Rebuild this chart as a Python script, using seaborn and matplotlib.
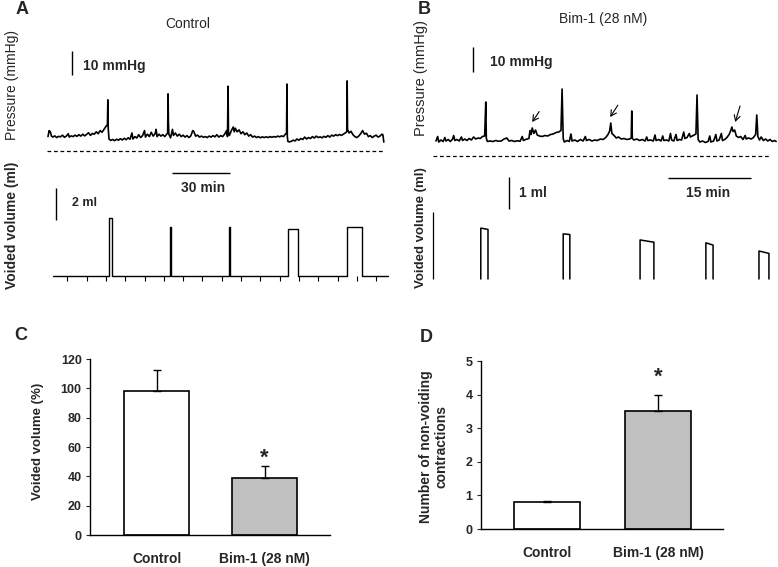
import numpy as np
import pandas as pd
import matplotlib
matplotlib.use('Agg')
import matplotlib.pyplot as plt
import seaborn as sns

# ---------------- data ----------------
# A: control cystometry, time (min) and pressure (mmHg)
ctrl_t = [0, 0.6, 1.2, 1.8, 2.5, 3.5, 4.5, 5.5, 6.5, 7.5, 8.5, 9.5, 10.5, 11, 12, 13, 14, 15, 16, 17,
          18, 19, 20, 21, 22, 23, 24, 25, 26, 27, 28, 29, 30, 30.8, 31, 31.2, 31.6, 32.5, 33.5, 34.5,
          35.5, 36.5, 37.5, 38.5, 39.5, 40.5, 41.5, 42.5, 43.5, 44, 45, 46, 47, 48, 49, 50,
          50.5, 51.5, 52.5, 53.5, 54.5, 55.5, 56, 56.5, 57.5, 58.5, 59.5, 60.5, 61.5, 62, 62.2, 62.4,
          62.6, 63.5, 64.5, 65, 66, 67, 68, 69, 70, 71, 72, 73, 74, 75, 75.5, 76.5, 77.5, 78.5,
          79.5, 80.5, 81.5, 82.5, 83.5, 84.5, 85.5, 86.5, 87.5, 88.5, 89.5, 90.5, 91.5, 92.5, 93, 93.3,
          93.5, 94, 95, 96, 96.5, 97, 98, 99, 100, 101, 102, 103, 104, 105, 106, 107, 108, 109,
          110, 111, 112, 113, 114, 115, 116, 117, 118, 119, 120, 121, 122, 123, 123.6, 123.8, 124, 124.3,
          125, 126, 127, 128, 129, 130, 131, 132, 133, 134, 135, 136, 137, 138, 139, 140, 141, 142,
          143, 144, 145, 146, 147, 148, 149, 150, 151, 152, 153, 154, 154.8, 155, 155.2, 156, 157, 158,
          159, 160, 161, 162, 163, 164, 165, 166, 167, 168, 169, 170, 171, 172, 173, 173.5, 174]
ctrl_p = [6.0, 8.5, 8.0, 6.2, 5.8, 6.3, 5.6, 6.1, 5.9, 6.6, 5.7, 6.2, 7.2, 5.8, 6.3, 6.0, 6.6, 6.1, 6.8, 6.2,
          7.0, 6.3, 6.9, 7.6, 6.5, 7.3, 7.0, 8.0, 7.2, 8.5, 7.8, 9.0, 10.2, 11.0, 21.3, 9.5, 5.0, 4.4, 4.8, 4.3,
          4.9, 4.5, 5.1, 4.6, 5.3, 4.7, 5.5, 4.9, 7.5, 5.0, 6.0, 5.4, 6.8, 5.6, 6.4, 8.5,
          5.8, 7.0, 6.0, 7.8, 6.2, 7.2, 9.0, 6.0, 7.0, 6.2, 6.8, 6.0, 7.0, 7.5, 23.8, 12.0,
          7.0, 5.5, 9.0, 6.5, 7.5, 6.2, 7.0, 6.0, 6.6, 5.8, 6.4, 5.6, 6.3, 8.5, 8.2, 6.2, 6.6, 5.8,
          6.2, 5.7, 6.0, 5.6, 6.2, 5.8, 6.4, 5.9, 6.8, 5.8, 6.4, 6.0, 7.0, 8.5, 6.0, 27.0,
          8.0, 6.5, 8.5, 10.0, 8.0, 9.5, 8.0, 8.8, 7.2, 8.0, 6.8, 7.5, 6.2, 6.8, 5.8, 6.2, 5.6, 6.0,
          5.5, 5.9, 5.6, 5.9, 5.6, 6.0, 5.7, 6.0, 5.8, 6.2, 5.9, 6.3, 6.0, 7.0, 7.5, 27.9, 6.0, 4.0,
          3.8, 4.0, 4.5, 4.2, 5.0, 4.5, 5.2, 4.8, 5.8, 5.0, 5.6, 5.2, 6.0, 5.4, 6.2, 5.6, 5.9, 5.5,
          6.1, 5.7, 6.4, 5.8, 6.6, 6.2, 6.8, 6.4, 6.9, 6.5, 7.0, 7.5, 8.0, 29.2, 9.0, 7.5, 8.2, 6.8,
          6.0, 5.6, 6.2, 7.2, 8.5, 7.0, 7.4, 6.0, 6.4, 5.6, 6.2, 6.6, 5.8, 6.2, 7.0, 6.8, 3.7]
ctrl_void_start = [31.8, 63.0, 93.8, 124.4, 155.0]
ctrl_void_end = [33.3, 63.7, 94.5, 129.5, 162.7]
ctrl_void_ml = [3.6, 3.06, 3.06, 2.94, 3.06]
ctrl_ticks = list(range(10, 171, 10))

# B: Bim-1 (28 nM) cystometry
bim_t = [0, 0.3, 0.5, 0.9, 1.3, 1.6, 1.8, 2.2, 2.6, 3.0, 3.2, 3.4, 3.8, 4.2, 4.6, 4.8, 5.2, 5.6, 6.0, 6.4,
         6.8, 7.2, 7.6, 8.0, 8.4, 8.8, 9.0, 9.1, 9.3, 9.8, 10.3, 10.8, 11.3, 11.8, 12.3, 12.8, 13.2, 13.7,
         14.2, 14.7, 15.2, 15.6, 15.8, 16.2, 16.8, 17.0, 17.2, 17.4, 17.7, 18.0, 18.3, 18.7, 19.2, 19.7,
         20.2, 20.7, 21.2, 21.7, 22.2, 22.6, 22.8, 23.0, 23.2, 23.7, 24.1, 24.4, 24.6, 25.1, 25.6, 26.1,
         26.6, 27.0, 27.2, 27.7, 28.2, 28.7, 29.2, 29.7, 30.2, 30.7, 31.1, 31.4, 31.6, 31.8, 32.2, 32.6,
         33.0, 33.5, 34.0, 34.5, 35.0, 35.3, 35.4, 35.5, 35.8, 36.3, 36.8, 37.3, 37.8, 38.1, 38.3, 38.8,
         39.3, 39.6, 39.8, 40.3, 40.7, 41.0, 41.2, 41.7, 42.1, 42.4, 42.6, 43.0, 43.4, 43.6, 44.0, 44.4,
         44.8, 45.0, 45.4, 45.8, 46.0, 46.5, 47.0, 47.2, 47.4, 47.7, 48.2, 48.7, 49.2, 49.5, 49.7, 50.2,
         50.6, 50.8, 51.2, 51.6, 51.8, 52.2, 52.6, 53.0, 53.3, 53.5, 53.7, 54.0, 54.3, 54.7, 55.1, 55.5,
         55.9, 56.1, 56.5, 57.0, 57.4, 57.8, 58.0, 58.2, 58.5, 58.8, 59.2, 59.6, 60.0, 60.4, 60.8, 61.2, 61.5]
bim_p = [6.0, 7.8, 5.6, 6.4, 5.8, 7.4, 6.0, 6.6, 5.8, 6.8, 8.2, 6.2, 6.6, 6.0, 7.6, 6.2, 6.8, 6.2, 7.0, 6.4,
         7.6, 6.8, 7.2, 7.0, 7.8, 8.0, 21.6, 7.0, 5.8, 6.0, 5.8, 6.2, 5.9, 6.0, 6.8, 7.2, 6.0, 6.2,
         5.8, 6.1, 5.9, 7.8, 6.2, 6.6, 7.0, 10.2, 8.6, 11.2, 9.0, 10.4, 8.4, 8.0, 7.8, 8.2,
         8.0, 8.6, 8.8, 9.4, 9.6, 10.2, 26.8, 7.0, 5.6, 6.2, 5.8, 8.8, 6.0, 6.4, 5.8, 6.6,
         6.0, 7.8, 6.2, 6.6, 6.0, 6.4, 6.2, 6.8, 6.6, 7.4, 8.6, 10.0, 13.2, 9.0, 8.2, 7.2,
         7.6, 6.8, 7.0, 6.6, 6.8, 7.2, 18.0, 7.0, 6.4, 6.8, 6.2, 6.6, 6.0, 7.6, 6.2, 6.4,
         6.0, 8.4, 6.2, 6.6, 6.0, 8.0, 6.2, 6.4, 6.0, 9.0, 6.4, 6.0, 8.6, 6.2, 6.6, 6.4,
         9.6, 7.0, 7.4, 9.0, 7.6, 8.2, 8.8, 24.4, 6.6, 5.6, 6.0, 5.4, 5.8, 8.0, 5.6, 6.0,
         8.6, 6.0, 6.4, 9.0, 6.2, 6.6, 7.4, 8.6, 10.2, 11.6, 9.8, 10.4, 8.0, 7.4, 7.8, 6.6,
         8.2, 6.8, 7.2, 6.8, 7.4, 8.6, 16.4, 7.8, 6.4, 7.6, 6.2, 6.8, 6.0, 6.6, 5.8, 6.2, 5.8]
bim_void_start = [8.1, 23.0, 36.9, 48.8, 58.4]
bim_void_end = [9.4, 24.2, 39.4, 50.1, 60.2]
bim_void_ml_on = [1.59, 1.41, 1.22, 1.13, 0.875]
bim_void_ml_off = [1.55, 1.39, 1.15, 1.06, 0.8]
bim_start_ml = 2.09
bim_arrow_t = [17.4, 31.5, 54.1]
bim_arrow_p = [13.6, 15.6, 13.6]

# C, D: summary bars (mean + SEM)
groups = ['Control', 'Bim-1 (28 nM)']
voided_pct = [98.4, 38.7]
voided_sem = [14.0, 8.6]
nonvoid_n = [0.8, 3.5]
nonvoid_sem = [0.04, 0.5]

# ---------------- figure ----------------
sns.set_style('white')
plt.rcParams['font.family'] = ['Liberation Sans', 'DejaVu Sans']

W, H = 778, 567
fig = plt.figure(figsize=(W / 100, H / 100), dpi=100)


def px_axes(l, t, r, b):
    return fig.add_axes([l / W, 1 - b / H, (r - l) / W, (b - t) / H])


def ptext(x, y, s, **kw):
    fig.text(x / W, 1 - y / H, s, **kw)


lw_trace = 1.2
dash = (0, (3, 2.2))

# ---- A: pressure ----
axA1 = px_axes(40, 10, 390, 200)
sns.lineplot(x=ctrl_t, y=ctrl_p, sort=False, estimator=None, color='black', lw=lw_trace, ax=axA1)
axA1.hlines(0, -0.5, 174.6, colors='black', lw=0.9, linestyles=dash)
axA1.vlines(12.4, 31.5, 41.5, colors='black', lw=1.0)
axA1.text(18.1, 35.4, '10 mmHg', fontsize=10, fontweight='bold', va='center')
axA1.hlines(-9.2, 64.2, 94.3, colors='black', lw=1.0)
axA1.text(80.6, -15.4, '30 min', fontsize=10, fontweight='bold', ha='center', va='center')
axA1.set_xlim(-4.145, 177.2)
axA1.set_ylim(-20.42, 58.75)
axA1.axis('off')

# ---- A: voided volume ----
axA2 = px_axes(40, 180, 390, 295)
va_t, va_v = [2.6], [0]
for s, e, h in zip(ctrl_void_start, ctrl_void_end, ctrl_void_ml):
    va_t += [s, s, e, e]
    va_v += [0, h, h, 0]
va_t.append(176)
va_v.append(0)
sns.lineplot(x=va_t, y=va_v, sort=False, estimator=None, color='black', lw=1.0, ax=axA2)
axA2.vlines(ctrl_ticks, -0.33, 0, colors='black', lw=0.8)
axA2.vlines(4.15, 3.5, 5.5, colors='black', lw=1.0)
axA2.text(12.4, 4.56, '2 ml', fontsize=9, fontweight='bold', va='center')
axA2.set_xlim(-4.145, 177.2)
axA2.set_ylim(-1.1875, 6.0)
axA2.axis('off')

# ---- B: pressure ----
axB1 = px_axes(425, 10, 778, 200)
sns.lineplot(x=bim_t, y=bim_p, sort=False, estimator=None, color='black', lw=lw_trace, ax=axB1)
axB1.hlines(0, -0.5, 60.4, colors='black', lw=0.9, linestyles=dash)
axB1.vlines(6.69, 33.6, 43.6, colors='black', lw=1.0)
axB1.text(9.76, 37.6, '10 mmHg', fontsize=10, fontweight='bold', va='center')
axB1.hlines(-8.8, 41.95, 56.95, colors='black', lw=1.0)
axB1.text(49.2, -14.8, '15 min', fontsize=10, fontweight='bold', ha='center', va='center')
arrow_off = [(5, 7.5), (5.5, 8.5), (3.5, 11.5)]
for t, p, off in zip(bim_arrow_t, bim_arrow_p, arrow_off):
    axB1.annotate('', xy=(t, p), xytext=off, textcoords='offset points',
                  arrowprops=dict(arrowstyle='->,head_length=0.4,head_width=0.22',
                                  lw=0.8, color='black', shrinkA=0, shrinkB=0))
axB1.set_xlim(-1.989, 61.84)
axB1.set_ylim(-17.6, 58.4)
axB1.axis('off')

# ---- B: voided volume ----
axB2 = px_axes(425, 165, 778, 295)
rows = []
for i, (s, e, h1, h2) in enumerate(zip(bim_void_start, bim_void_end, bim_void_ml_on, bim_void_ml_off)):
    for t, v in [(s, 0), (s, h1), (e, h2), (e, 0)]:
        rows.append((i, t, v))
vb = pd.DataFrame(rows, columns=['pulse', 't', 'ml'])
sns.lineplot(data=vb, x='t', y='ml', units='pulse', estimator=None, sort=False,
             color='black', lw=1.1, ax=axB2)
axB2.vlines(-0.54, 0, bim_start_ml, colors='black', lw=0.9)
axB2.vlines(13.2, 2.19, 3.19, colors='black', lw=1.0)
axB2.text(15.0, 2.69, '1 ml', fontsize=10, fontweight='bold', va='center')
axB2.set_xlim(-1.989, 61.84)
axB2.set_ylim(-0.5, 3.5625)
axB2.axis('off')

# ---- C, D: bar charts ----
def bar_panel(ax, vals, sems, ylim, yticks, star_y, xlim):
    sns.barplot(x=groups, y=vals, hue=groups, palette=['white', '#c0c0c0'], legend=False,
                edgecolor='black', linewidth=1.2, width=0.6, saturation=1, ax=ax)
    ax.errorbar([0, 1], vals, yerr=[[0, 0], sems], fmt='none', ecolor='black',
                elinewidth=1.0, capsize=3.2, capthick=1.0, zorder=5)
    ax.text(1, star_y, '*', fontsize=16, fontweight='bold', ha='center', va='baseline')
    ax.set_xlim(*xlim)
    ax.set_ylim(*ylim)
    ax.set_yticks(yticks)
    ax.set_xticks([0, 1])
    ax.set_xticklabels(groups, fontsize=10, fontweight='bold')
    ax.tick_params(axis='x', length=0, pad=12)
    ax.tick_params(axis='y', direction='out', length=3, width=0.8, left=True, pad=3, labelsize=9)
    for lbl in ax.get_yticklabels():
        lbl.set_fontweight('bold')
    for side in ['top', 'right']:
        ax.spines[side].set_visible(False)
    for side in ['left', 'bottom']:
        ax.spines[side].set_color('black')
        ax.spines[side].set_linewidth(1.0)
    ax.set_xlabel('')
    ax.set_ylabel('')


axC = px_axes(90, 359, 330, 535)
bar_panel(axC, voided_pct, voided_sem, (0, 120), range(0, 121, 20), 48.4, (-0.616, 1.606))
axD = px_axes(481, 361, 723, 529)
bar_panel(axD, nonvoid_n, nonvoid_sem, (0, 5), range(0, 6), 4.35, (-0.595, 1.585))

# ---- labels ----
for x, y, s in [(22, 10, 'A'), (424, 10, 'B'), (21, 336, 'C'), (426, 337, 'D')]:
    ptext(x, y, s, fontsize=13, fontweight='bold', ha='center', va='center')
ptext(188, 24, 'Control', fontsize=10, ha='center', va='center')
ptext(603, 19, 'Bim-1 (28 nM)', fontsize=10, ha='center', va='center')
ptext(12, 85, 'Pressure (mmHg)', fontsize=10, rotation=90, ha='center', va='center')
ptext(12, 225, 'Voided volume (ml)', fontsize=10, fontweight='bold', rotation=90, ha='center', va='center')
ptext(421, 78, 'Pressure (mmHg)', fontsize=10.5, rotation=90, ha='center', va='center')
ptext(421, 228, 'Voided volume (ml)', fontsize=9.5, fontweight='bold', rotation=90, ha='center', va='center')
ptext(38, 441, 'Voided volume (%)', fontsize=9.5, fontweight='bold', rotation=90, ha='center', va='center')
ptext(434, 447, 'Number of non-voiding\ncontractions', fontsize=10, fontweight='bold',
      rotation=90, ha='center', va='center', linespacing=1.1)

fig.savefig('out.png', dpi=100)
